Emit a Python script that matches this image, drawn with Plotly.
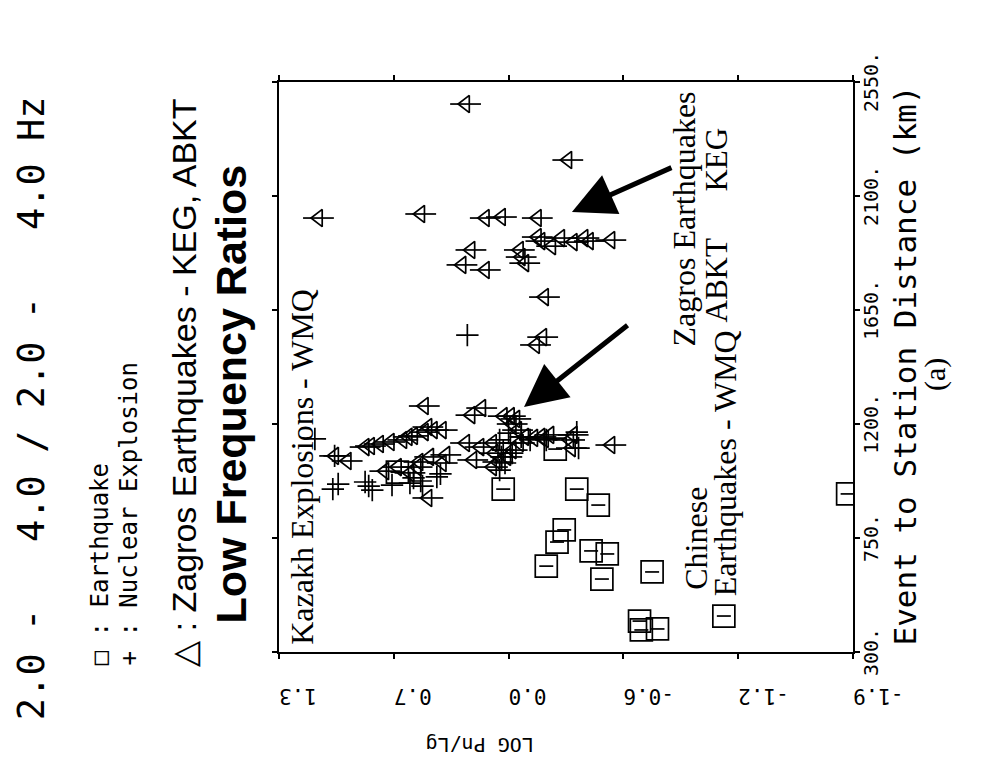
import plotly.graph_objects as go

# %%
# data (distance in km, log Pn/Lg)
eq_dist = [1010, 943, 1101, 943, 880, 782, 734, 699, 687, 639, 588, 616, 422, 387, 391, 442, 924]
eq_log = [0.64, 0.05, -0.24, -0.36, -0.48, -0.29, -0.25, -0.44, -0.53, -0.19, -0.50, -0.78,
          -0.71, -0.72, -0.81, -1.18, -1.87]

nuc_dist = [1551, 1141, 1074, 943, 963, 971, 955, 939, 959, 967, 987, 975, 955, 991, 1003,
            1137, 1097, 1070, 1046, 1018, 1125, 1085, 1164, 1149, 1137, 1137, 1168, 1105]
nuc_log = [0.25, 1.10, 0.99, 1.00, 0.97, 0.82, 0.80, 0.78, 0.67, 0.57, 0.55, 0.51, 0.50, 0.42, 0.40,
           0.07, 0.05, 0.06, 0.04, 0.07, 0.01, 0.00, 0.02, -0.05, -0.10, -0.19, -0.36, -0.37]

zag_dist = [2463, 2242, 2013, 2029, 2013, 2017, 2013, 1887, 1828, 1808, 1887, 1859, 1835, 1938,
            1922, 1902, 1934, 1918, 1934, 1922, 1926, 1701, 1512, 1543, 1271, 1235, 1263, 1231,
            1231, 1220, 1200, 1176, 1176, 1176, 1168, 1153, 1149, 1188, 1137, 1129, 1121, 1113,
            1109, 1054, 1074, 1070, 1078, 1046, 1125, 1109, 1058, 1125, 1085, 1050, 1030, 1070,
            1097, 1125, 1149, 1145, 1149, 1141, 1157, 1137, 1157, 1105, 908, 1030, 1007, 1014,
            1030, 1117, 1050]
zag_log = [0.26, -0.31, 1.08, 0.51, 0.15, 0.06, -0.14, 0.23, 0.28, 0.15, -0.04, -0.05, -0.07, -0.14,
           -0.16, -0.22, -0.27, -0.34, -0.40, -0.43, -0.55, -0.18, -0.13, -0.17, 0.49, 0.23, 0.17, 0.05,
           0.01, -0.02, 0.00, -0.03, 0.44, 0.39, 0.49, 0.55, 0.58, 0.47, 0.61, 0.68, 0.74, 0.79,
           0.82, 0.92, 0.99, 0.46, 0.37, 0.39, 0.26, 0.18, 0.22, 0.11, 0.10, 0.08, 0.11, 0.03,
           0.00, -0.04, -0.07, -0.12, -0.16, -0.18, -0.21, -0.32, -0.34, -0.33, 0.47, 0.53, 0.57, 0.71,
           0.64, -0.55, 0.52]

log_ticks = [1.3, 0.66, 0.02, -0.62, -1.26, -1.9]
log_labels = ["1.3", "0.7", "0.0", "-0.6", "-1.2", "-1.9"]
dist_ticks = [300, 750, 1200, 1650, 2100, 2550]
dist_labels = ["300.", "750.", "1200.", "1650.", "2100.", "2550."]

mono = "DejaVu Sans Mono"
serif = "Liberation Serif"
sans = "Liberation Sans"

# %%
fig = go.Figure()

# earthquakes: open square with a small dash
fig.add_trace(go.Scatter(x=eq_log, y=eq_dist, mode="markers",
                         marker=dict(symbol="square-open", size=22, color="black", line=dict(width=1.7))))
fig.add_trace(go.Scatter(x=eq_log, y=eq_dist, mode="markers",
                         marker=dict(symbol="line-ew-open", size=10, color="black", line=dict(width=1.7))))

# nuclear explosions
fig.add_trace(go.Scatter(x=nuc_log, y=nuc_dist, mode="markers",
                         marker=dict(symbol="cross-thin-open", size=16, color="black", line=dict(width=1.7))))

# zagros earthquakes: triangle with a tail
fig.add_trace(go.Scatter(x=zag_log, y=zag_dist, mode="markers",
                         marker=dict(symbol="triangle-left-open", size=15, color="black", line=dict(width=1.7))))
fig.add_trace(go.Scatter(x=zag_log, y=zag_dist, mode="markers",
                         marker=dict(symbol="line-ew-open", size=22, color="black", line=dict(width=1.7))))

# %%
axis_common = dict(showgrid=False, zeroline=False, showline=True, linecolor="black", linewidth=2,
                   mirror="ticks", ticks="outside", ticklen=5, tickwidth=1.5, tickcolor="black")

fig.update_xaxes(range=[1.3, -1.9], tickvals=log_ticks, ticktext=log_labels, tickangle=180,
                 tickfont=dict(family=mono, size=21, color="black"), ticklabelstandoff=26,
                 **axis_common)
fig.update_yaxes(range=[300, 2550], tickvals=dist_ticks, showticklabels=False, side="right",
                 **axis_common)

# distance tick labels, turned like the rest of the page
for d, lab in zip(dist_ticks, dist_labels):
    fig.add_annotation(text=lab, xref="paper", yref="y", x=1, y=d, xanchor="left", yanchor="middle",
                       xshift=4, textangle=-90, showarrow=False,
                       font=dict(family=mono, size=20, color="black"))

# axis titles
fig.add_annotation(text="LOG Pn/Lg", xref="paper", yref="paper", x=0.35, y=-0.163,
                   xanchor="center", yanchor="middle", textangle=180, showarrow=False,
                   font=dict(family=mono, size=20, color="black"))
fig.add_annotation(text="Event to Station Distance (km)", xref="paper", yref="paper", x=1.091, y=0.503,
                   xanchor="center", yanchor="middle", textangle=-90, showarrow=False,
                   font=dict(family=mono, size=31, color="black"))
fig.add_annotation(text="(a)", xref="paper", yref="paper", x=1.143, y=0.486,
                   xanchor="center", yanchor="middle", textangle=-90, showarrow=False,
                   font=dict(family=serif, size=30, color="black"))

# legend block on the left
fig.add_annotation(text="2.0 -\u00a0\u00a0\u00a04.0 / 2.0 -\u00a0\u00a0\u00a04.0 Hz", xref="paper", yref="paper",
                   x=-0.432, y=-0.123, xanchor="center", yanchor="bottom", textangle=-90,
                   showarrow=False, font=dict(family=mono, size=37, color="black"))
fig.add_annotation(text="\u25a1 : Earthquake", xref="paper", yref="paper",
                   x=-0.312, y=-0.027, xanchor="center", yanchor="bottom", textangle=-90,
                   showarrow=False, font=dict(family=mono, size=24, color="black"))
fig.add_annotation(text="+ : Nuclear Explosion", xref="paper", yref="paper",
                   x=-0.262, y=-0.027, xanchor="center", yanchor="bottom", textangle=-90,
                   showarrow=False, font=dict(family=mono, size=24, color="black"))
fig.add_annotation(text="\u25b3 : Zagros Earthquakes - KEG, ABKT", xref="paper", yref="paper",
                   x=-0.166, y=-0.03, xanchor="center", yanchor="bottom", textangle=-90,
                   showarrow=False, font=dict(family=sans, size=34, color="black"))
fig.add_annotation(text="<b>Low Frequency Ratios</b>", xref="paper", yref="paper",
                   x=-0.084, y=0.047, xanchor="center", yanchor="bottom", textangle=-90,
                   showarrow=False, font=dict(family=sans, size=43, color="black"))

# labels inside the plot
fig.add_annotation(text="Kazakh Explosions - WMQ", xref="paper", yref="paper",
                   x=0.04, y=0.009, xanchor="center", yanchor="bottom", textangle=-90,
                   showarrow=False, font=dict(family=serif, size=32, color="black"))
fig.add_annotation(text="Zagros Earthquakes", xref="paper", yref="paper",
                   x=0.705, y=0.76, xanchor="center", yanchor="middle", textangle=-90,
                   showarrow=False, font=dict(family=serif, size=32, color="black"))
fig.add_annotation(text="ABKT\u00a0\u00a0\u00a0\u00a0\u00a0\u00a0KEG", xref="paper", yref="paper",
                   x=0.763, y=0.75, xanchor="center", yanchor="middle", textangle=-90,
                   showarrow=False, font=dict(family=serif, size=31, color="black"))
fig.add_annotation(text="Chinese", xref="paper", yref="paper",
                   x=0.726, y=0.2, xanchor="center", yanchor="middle", textangle=-90,
                   showarrow=False, font=dict(family=serif, size=32, color="black"))
fig.add_annotation(text="Earthquakes - WMQ", xref="paper", yref="paper",
                   x=0.776, y=0.095, xanchor="center", yanchor="bottom", textangle=-90,
                   showarrow=False, font=dict(family=serif, size=32, color="black"))

# arrows
fig.add_annotation(x=-0.066, y=1267, ax=105, ay=-83, text="", showarrow=True,
                   arrowhead=2, arrowsize=1.7, arrowwidth=5, arrowcolor="black", standoff=0)
fig.add_annotation(x=-0.333, y=2037, ax=101, ay=-45, text="", showarrow=True,
                   arrowhead=2, arrowsize=1.7, arrowwidth=5, arrowcolor="black", standoff=0)

# page has an 8px body margin, so the figure is shifted back by that much
fig.update_layout(width=999, height=774, autosize=False, showlegend=False,
                  margin=dict(l=271, r=154, t=74, b=130),
                  plot_bgcolor="white", paper_bgcolor="white")

fig.write_html("out.html")
